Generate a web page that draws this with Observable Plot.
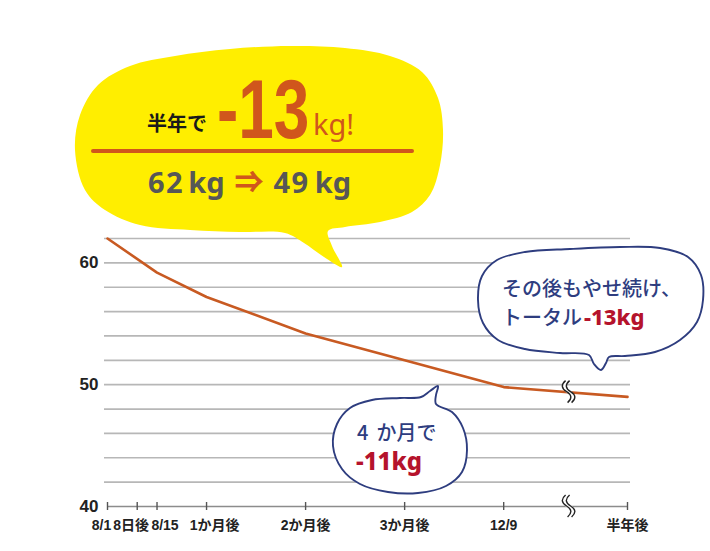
<!DOCTYPE html>
<html><head><meta charset="utf-8">
<script src="https://cdn.jsdelivr.net/npm/d3@7"></script>
<script src="https://cdn.jsdelivr.net/npm/@observablehq/plot@0.6"></script>
<style>body{margin:0;background:#fff}</style>
</head><body><div id="chart"></div>
<script>
// ---- data ----
const tickLabels = ["8/1", "8日後", "8/15", "1か月後", "2か月後", "3か月後", "12/9", "半年後"];
const tickMonths = [0, 0.3, 0.5, 1, 2, 3, 4, 5.25];
const weightMonths = [0, 0.5, 1, 2, 3, 4, 5.25];
const weightKg = [62, 59.2, 57.2, 54.2, 52.0, 49.8, 49.0];
const gridKg = [42, 44, 46, 48, 50, 52, 54, 56, 58, 60, 62];
const yTickKg = [40, 50, 60];
const breakMonth = 4.64;
const headline = {lead: "半年で", loss: "-13", unit: "kg!", from: "62", to: "49"};
const note1 = {line1: "その後もやせ続け、", line2: "トータル", loss: "-13kg"};
const note2 = {num: "4", rest: "か月で", loss: "-11kg"};

const weights = weightMonths.map((m, i) => ({m, kg: weightKg[i]}));
const ticks = tickMonths.map((m, i) => ({m, label: tickLabels[i], i}));

const JP = "'Noto Sans CJK JP', 'Noto Sans', sans-serif";
const LAB = "'Liberation Sans', Arial, 'Noto Sans CJK JP', sans-serif";
const ORANGE = "#c85a22";
const HEAD = "#d0561c";
const NAVY = "#2e3d7f";
const RED = "#b5132c";

const plot = Plot.plot({
  width: 710, height: 551,
  marginLeft: 107, marginRight: 83, marginTop: 238, marginBottom: 45,
  x: {domain: [0, 5.25], axis: null},
  y: {domain: [40, 62], axis: null},
  style: {background: "white", overflow: "visible"},
  marks: [
    Plot.ruleY(gridKg, {stroke: "#b7b7b7", strokeWidth: 1.7, insetLeft: -3, insetRight: -3}),
    Plot.ruleY([40], {stroke: "#8c8c8c", strokeWidth: 1.4, insetRight: -1}),
    Plot.ruleX(tickMonths, {y1: 39.67, y2: 40.33, stroke: "#555", strokeWidth: 1.4}),
    Plot.text(yTickKg, {x: 0, y: d => d, text: d => String(d), dx: -9, textAnchor: "end",
      fontSize: 17, fontWeight: "bold", fill: "#222", fontFamily: "'Liberation Sans', Arial, sans-serif"}),
    Plot.text(ticks.filter(d => d.i < 2), {x: "m", y: 40, text: "label", dy: 19, dx: -6,
      fontSize: 14, fontWeight: "bold", fill: "#222", fontFamily: LAB}),
    Plot.text(ticks.filter(d => d.i >= 2 && d.i < 4), {x: "m", y: 40, text: "label", dy: 19, dx: 8,
      fontSize: 14, fontWeight: "bold", fill: "#222", fontFamily: LAB}),
    Plot.text(ticks.filter(d => d.i >= 4), {x: "m", y: 40, text: "label", dy: 19,
      fontSize: 14, fontWeight: "bold", fill: "#222", fontFamily: LAB}),
    Plot.line(weights, {x: "m", y: "kg", stroke: ORANGE, strokeWidth: 2.6, strokeLinejoin: "round"})
  ]
});
document.getElementById("chart").appendChild(plot);

const svg = d3.select(plot);
const X = plot.scale("x").apply, Y = plot.scale("y").apply;

// ---- break marks ----
function breakMark(cx, cy) {
  const g = svg.append("g");
  const s = (dx) => `M${cx - 1 + dx},${cy - 11} Q${cx - 8 + dx},${cy - 5} ${cx + dx},${cy} Q${cx + 8 + dx},${cy + 5} ${cx + 1 + dx},${cy + 11}`;
  g.append("path").attr("d", s(2)).attr("fill", "none").attr("stroke", "white").attr("stroke-width", 4);
  g.append("path").attr("d", s(0)).attr("fill", "none").attr("stroke", "#222").attr("stroke-width", 1.4);
  g.append("path").attr("d", s(4)).attr("fill", "none").attr("stroke", "#222").attr("stroke-width", 1.4);
}
const seg = d3.bisect(weightMonths, breakMonth);
const t = (breakMonth - weightMonths[seg - 1]) / (weightMonths[seg] - weightMonths[seg - 1]);
const breakKg = weightKg[seg - 1] + t * (weightKg[seg] - weightKg[seg - 1]);
breakMark(X(breakMonth), Y(breakKg));
breakMark(X(breakMonth), Y(40));

// ---- speech bubbles ----
const blob = d3.line().curve(d3.curveCatmullRomClosed.alpha(0.5));
const yellowPts = [[75,150],[80,115],[98,85],[130,66],[175,56],[230,49],[290,46],[345,48],[390,56],[422,72],[438,98],[443,130],[440,165],[430,195],[412,212],[380,222],[345,227],[328,231],[332,246],[342,267],[324,257],[304,243],[285,233],[240,232],[190,230],[140,225],[105,210],[85,190]];
svg.append("path").attr("d", blob(yellowPts)).attr("fill", "#ffee00");

const blue1 = [[478,300],[482,276],[497,260],[525,252],[570,249],[620,247],[660,248],[688,257],[701,275],[703,300],[697,322],[680,340],[655,352],[625,356],[609,357],[606,363],[601,370],[594,364],[589,355],[560,353],[525,349],[498,340],[483,323]];
svg.append("path").attr("d", blob(blue1)).attr("fill", "white").attr("stroke", NAVY).attr("stroke-width", 1.9).attr("stroke-linejoin", "round");

const blue2 = [[333,446],[337,424],[350,408],[372,400],[400,398],[421,397],[430,391],[438,386],[436,395],[436,404],[452,412],[463,428],[467,450],[462,472],[446,486],[418,493],[388,492],[360,484],[342,469]];
svg.append("path").attr("d", blob(blue2)).attr("fill", "white").attr("stroke", NAVY).attr("stroke-width", 1.9).attr("stroke-linejoin", "round");

// ---- yellow bubble text ----
svg.append("text").attr("x", 147).attr("y", 131).attr("text-anchor", "start")
  .attr("font-family", JP).attr("font-weight", 700).attr("font-size", 20).attr("fill", "#1a1a1a").text(headline.lead);
svg.append("text").attr("text-anchor", "start").attr("transform", "translate(217,138) scale(0.77,1)")
  .attr("font-family", "'Liberation Sans', Arial, sans-serif").attr("font-weight", 700).attr("font-size", 83)
  .attr("fill", HEAD).text(headline.loss);
svg.append("text").attr("x", 313).attr("y", 135).attr("text-anchor", "start")
  .attr("font-family", "'Noto Sans', sans-serif").attr("font-weight", 400).attr("font-size", 29)
  .attr("fill", HEAD).text(headline.unit);

svg.append("line").attr("x1", 93).attr("x2", 412).attr("y1", 151).attr("y2", 151)
  .attr("stroke", HEAD).attr("stroke-width", 4).attr("stroke-linecap", "round");

const h2 = svg.append("text").attr("x", 148).attr("y", 193).attr("text-anchor", "start")
  .attr("font-family", "'Noto Sans', " + JP).attr("font-weight", 700).attr("font-size", 29).attr("fill", "#575757");
h2.append("tspan").attr("letter-spacing", 1.5).text(headline.from);
h2.append("tspan").attr("dx", 4).text("kg");
h2.append("tspan").attr("dx", 10).attr("fill", HEAD).attr("font-family", JP).attr("font-weight", 900).text("⇒");
h2.append("tspan").attr("dx", 10).attr("letter-spacing", 1.5).text(headline.to);
h2.append("tspan").attr("dx", 5).text("kg");

// ---- blue bubble texts ----
svg.append("text").attr("x", 502).attr("y", 296).attr("text-anchor", "start").attr("font-family", JP).attr("font-weight", 500)
  .attr("font-size", 20).attr("fill", NAVY).text(note1.line1);
const n1 = svg.append("text").attr("x", 502).attr("y", 325).attr("text-anchor", "start").attr("font-family", JP).attr("font-weight", 500)
  .attr("font-size", 20).attr("fill", NAVY);
n1.append("tspan").text(note1.line2);
n1.append("tspan").attr("dx", 2).attr("font-weight", 800).attr("font-size", 22).attr("fill", RED).attr("font-family", "'Noto Sans', " + JP).text(note1.loss);

const n2 = svg.append("text").attr("x", 357).attr("y", 440).attr("text-anchor", "start").attr("font-family", JP).attr("font-weight", 500)
  .attr("font-size", 20).attr("fill", NAVY);
n2.append("tspan").text(note2.num);
n2.append("tspan").attr("dx", 8).text(note2.rest);
svg.append("text").attr("x", 356).attr("y", 470).attr("text-anchor", "start").attr("font-family", "'Noto Sans', " + JP).attr("font-weight", 800)
  .attr("font-size", 24).attr("fill", RED).text(note2.loss);
</script>
</body></html>
